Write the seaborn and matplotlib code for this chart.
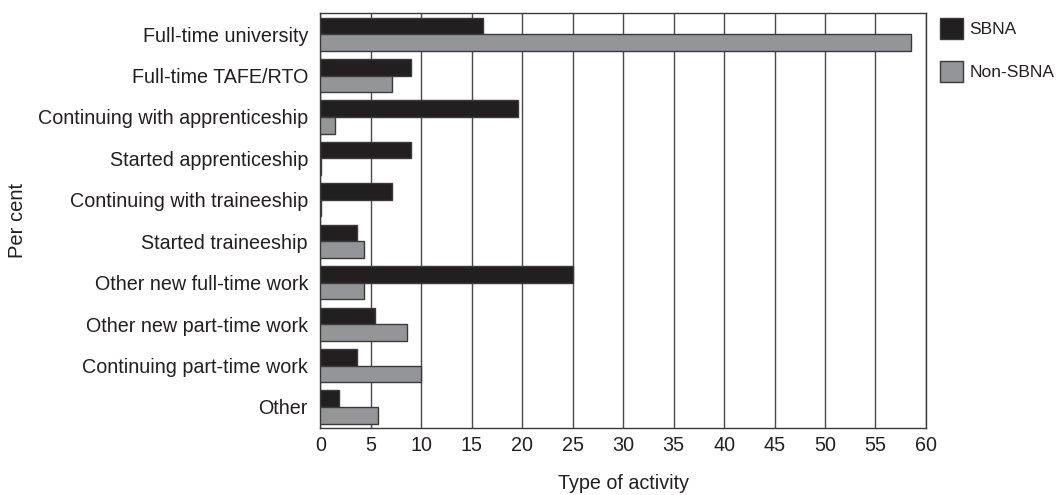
import matplotlib
matplotlib.use("Agg")
import matplotlib.pyplot as plt
import seaborn as sns
import pandas as pd
from matplotlib.patches import Patch

categories = [
    "Full-time university",
    "Full-time TAFE/RTO",
    "Continuing with apprenticeship",
    "Started apprenticeship",
    "Continuing with traineeship",
    "Started traineeship",
    "Other new full-time work",
    "Other new part-time work",
    "Continuing part-time work",
    "Other",
]
sbna = [16.1, 9.0, 19.6, 9.0, 7.1, 3.6, 25.0, 5.4, 3.6, 1.8]
non_sbna = [58.5, 7.1, 1.4, 0.1, 0.05, 4.3, 4.3, 8.6, 10.0, 5.7]
groups = ["SBNA", "Non-SBNA"]
colors = ["#231f20", "#939598"]
x_ticks = list(range(0, 61, 5))

df = pd.DataFrame({
    "category": categories * 2,
    "value": sbna + non_sbna,
    "group": [groups[0]] * len(categories) + [groups[1]] * len(categories),
})

sns.set_theme(style="white")
plt.rcParams["font.family"] = ["Liberation Sans", "DejaVu Sans"]

fig = plt.figure(figsize=(10.61, 4.95), dpi=100)
ax = fig.add_axes([0.302, 0.136, 0.5707, 0.837])

sns.barplot(
    data=df, x="value", y="category", hue="group", order=categories,
    hue_order=groups, palette=colors, orient="h", width=0.8,
    edgecolor="#3a3a3a", linewidth=1.0, saturation=1, ax=ax, legend=False,
    zorder=3,
)

ax.set_xlim(0, 60)
ax.set_ylim(len(categories) - 0.5, -0.5)
ax.set_xticks(x_ticks)
ax.set_xticklabels([str(t) for t in x_ticks])
ax.xaxis.grid(True, color="#4a4a4a", linewidth=1.0, zorder=0)
ax.yaxis.grid(False)
ax.set_axisbelow(True)
for side in ["left", "bottom", "right", "top"]:
    ax.spines[side].set_visible(True)
    ax.spines[side].set_color("#3a3a3a")
    ax.spines[side].set_linewidth(1.0)

ax.tick_params(axis="both", labelsize=14.2, colors="#231f20", length=0)
ax.tick_params(axis="x", pad=6)
ax.tick_params(axis="y", pad=9)
ax.set_xlabel("Type of activity", fontsize=14.2, color="#231f20")
ax.set_ylabel("Per cent", fontsize=14.5, color="#231f20")
ax.xaxis.set_label_coords(0.5, -0.112)
ax.yaxis.set_label_coords(-0.484, 0.5)

handles = [Patch(facecolor=c, edgecolor="#3a3a3a", linewidth=1.0) for c in colors]
ax.legend(
    handles, groups, loc="upper left", bbox_to_anchor=(1.012, 1.005),
    frameon=False, fontsize=12.5, handlelength=1.32, handleheight=1.45,
    handletextpad=0.35, labelspacing=1.3, borderaxespad=0,
    labelcolor="#231f20",
)

fig.savefig("out.png", dpi=100)
